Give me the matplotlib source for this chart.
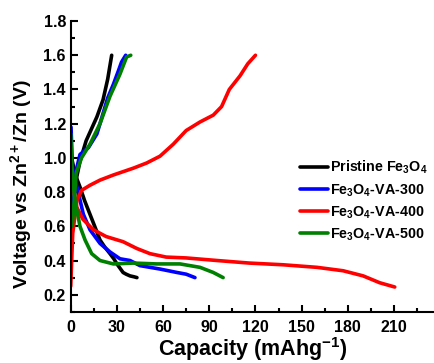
import matplotlib
matplotlib.use("Agg")
import matplotlib.pyplot as plt
from matplotlib.ticker import MultipleLocator

# --- font: bold Arial-like text, subscripts too ---
plt.rcParams["font.family"] = ["Liberation Sans", "DejaVu Sans"]
plt.rcParams["font.weight"] = "bold"
plt.rcParams["mathtext.fontset"] = "custom"
plt.rcParams["mathtext.rm"] = "Liberation Sans:bold"
plt.rcParams["mathtext.bf"] = "Liberation Sans:bold"
plt.rcParams["mathtext.it"] = "Liberation Sans:bold"
plt.rcParams["mathtext.default"] = "bf"

# --- data (capacity mAh/g, voltage V) ---
labels = ["Pristine Fe$_3$O$_4$", "Fe$_3$O$_4$-VA-300", "Fe$_3$O$_4$-VA-400", "Fe$_3$O$_4$-VA-500"]
colors = ["black", "blue", "red", "green"]

pristine_chg_x = [0.6, 3, 6, 10, 14, 17, 21, 24, 26.6]
pristine_chg_y = [0.55, 0.85, 0.98, 1.10, 1.18, 1.24, 1.34, 1.46, 1.60]
pristine_dis_x = [0.5, 3, 6, 9, 12.5, 16, 19, 22, 25.5, 28, 30, 32, 34, 36, 38.5, 41, 43]
pristine_dis_y = [1.00, 0.90, 0.83, 0.75, 0.67, 0.59, 0.52, 0.48, 0.44, 0.41, 0.38, 0.355, 0.33, 0.32, 0.31, 0.305, 0.30]

va300_chg_x = [0.8, 2.8, 6, 11.5, 17, 21, 24, 27.7, 31, 33, 35.7]
va300_chg_y = [0.55, 0.90, 1.02, 1.06, 1.14, 1.26, 1.35, 1.43, 1.51, 1.56, 1.60]
va300_dis_x = [0.2, 0.8, 1.3, 4, 8.2, 12.5, 19, 25.5, 32, 38.5, 45, 58, 69, 75, 80.7]
va300_dis_y = [1.18, 1.02, 0.91, 0.83, 0.67, 0.58, 0.50, 0.45, 0.41, 0.40, 0.37, 0.35, 0.33, 0.32, 0.30]

va400_chg_x = [0, 0.6, 1.3, 4, 7, 12.5, 19, 27.7, 40.7, 49.3, 58, 66.6, 75, 84, 92.6, 98, 103, 110, 115, 120]
va400_chg_y = [0.25, 0.40, 0.56, 0.75, 0.81, 0.84, 0.87, 0.90, 0.94, 0.97, 1.01, 1.08, 1.16, 1.21, 1.25, 1.30, 1.40, 1.48, 1.55, 1.60]
va400_dis_x = [0.6, 4, 8, 14.7, 23, 34, 43, 51.5, 62, 75, 95, 116, 138, 160, 177, 190, 200.7, 210.5]
va400_dis_y = [0.87, 0.71, 0.64, 0.58, 0.54, 0.51, 0.47, 0.44, 0.42, 0.415, 0.40, 0.385, 0.375, 0.36, 0.34, 0.31, 0.27, 0.245]

va500_chg_x = [1, 3.5, 7, 12.5, 19, 25.5, 32, 36.3, 39]
va500_chg_y = [0.60, 0.91, 1.00, 1.08, 1.20, 1.36, 1.49, 1.59, 1.60]
va500_dis_x = [0, 0.6, 1.5, 2.8, 6, 9.3, 13.6, 19, 27.7, 40.7, 55.8, 71, 84, 92.6, 99]
va500_dis_y = [1.14, 0.98, 0.85, 0.75, 0.60, 0.52, 0.44, 0.40, 0.38, 0.385, 0.38, 0.38, 0.36, 0.33, 0.30]

curves = [
    (pristine_chg_x, pristine_chg_y, pristine_dis_x, pristine_dis_y),
    (va300_chg_x, va300_chg_y, va300_dis_x, va300_dis_y),
    (va400_chg_x, va400_chg_y, va400_dis_x, va400_dis_y),
    (va500_chg_x, va500_chg_y, va500_dis_x, va500_dis_y),
]

fig = plt.figure(figsize=(4.34, 3.63), dpi=100)
ax = fig.add_axes([0.163, 0.141, 0.837, 0.801])

for (cx, cy, dx, dy), col, lab in zip(curves, colors, labels):
    ax.plot(dx, dy, color=col, lw=2.6, solid_capstyle="round")
    ax.plot(cx, cy, color=col, lw=2.6, solid_capstyle="round", label=lab)

ax.set_xlim(0, 236)
ax.set_ylim(0.1, 1.8)
ax.xaxis.set_major_locator(MultipleLocator(30))
ax.xaxis.set_minor_locator(MultipleLocator(15))
ax.yaxis.set_minor_locator(MultipleLocator(0.1))
ax.set_yticks([0.2, 0.4, 0.6, 0.8, 1.0, 1.2, 1.4, 1.6, 1.8])
ax.spines["top"].set_visible(False)
ax.spines["right"].set_visible(False)
ax.spines["left"].set_bounds(0.1, 1.8)
for s in ("left", "bottom"):
    ax.spines[s].set_linewidth(1.5)
ax.tick_params(which="both", direction="in", width=1.5, labelsize=11.5)
ax.tick_params(which="major", length=5)
ax.tick_params(which="minor", length=3)
ax.tick_params(axis="x", pad=6)

ax.set_xlabel("Capacity (mAhg$^{-1}$)", fontsize=15.5, fontweight="bold", labelpad=0)
ax.set_ylabel("Voltage vs Zn$^{2+}$/Zn (V)", fontsize=14, fontweight="bold")
ax.yaxis.set_label_coords(-0.10, 0.44)

ax.legend(loc="upper left", bbox_to_anchor=(0.614, 0.545), frameon=False,
          fontsize=10.3, handlelength=2.0, handletextpad=0.1, labelspacing=0.4,
          borderaxespad=0)

fig.savefig("out.png", dpi=100)
